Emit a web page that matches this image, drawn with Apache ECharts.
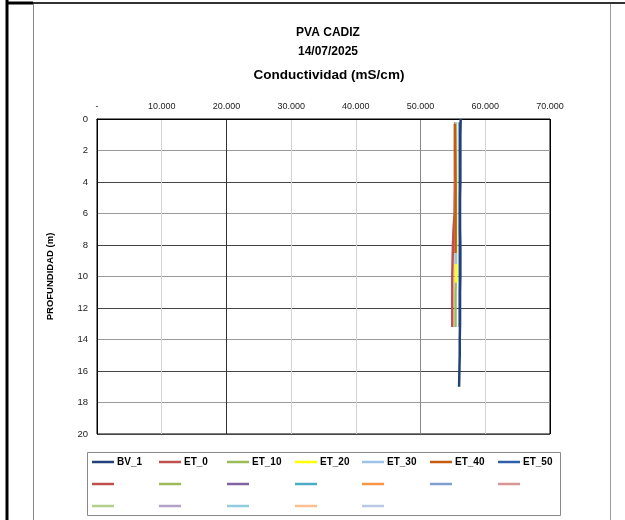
<!DOCTYPE html>
<html><head><meta charset="utf-8">
<script src="https://cdn.jsdelivr.net/npm/echarts@6/dist/echarts.min.js"></script>
<style>html,body{margin:0;padding:0;background:#fff}#c{width:625px;height:520px}</style>
</head><body><div id="c"></div>
<script>
// ---- data ----
const titleLines = ['PVA CADIZ', '14/07/2025', 'Conductividad (mS/cm)'];
const xTicks = [0, 10000, 20000, 30000, 40000, 50000, 60000, 70000];
const yTicks = [0, 2, 4, 6, 8, 10, 12, 14, 16, 18, 20];
const seriesNames = ['BV_1', 'ET_0', 'ET_10', 'ET_20', 'ET_30', 'ET_40', 'ET_50'];
const seriesColors = ['#22407A', '#C0504D', '#9BBB59', '#FFFF00', '#9DC3E6', '#C55A11', '#2E5FA8'];
const blankColors = ['#C0504D', '#9BBB59', '#8064A2', '#4BACC6', '#F79646', '#7F9FD1', '#D99694',
                     '#B3CF8C', '#B3A2C7', '#93CDDD', '#FAC090', '#B9C9E5'];
// depth (m)
const depthBV1 = [0, 1, 2, 3, 4, 5, 6, 7, 8, 9, 10, 11, 12, 13, 14, 15, 16, 17];
const valBV1 = [56200, 56150, 56150, 56150, 56150, 56100, 56100, 56100, 56150, 56150, 56150, 56100, 56100, 56100, 56050, 56050, 56000, 55950];
const depthET0 = [0.2, 2, 4, 6, 7, 8, 9, 10, 11, 12, 13.2];
const valET0 = [55350, 55300, 55300, 55250, 55100, 55000, 54950, 54900, 54900, 54900, 54900];
const depthET10 = [0.2, 2, 4, 6, 8, 9, 10, 11, 12, 13.2];
const valET10 = [55450, 55450, 55450, 55450, 55450, 55450, 55450, 55400, 55400, 55400];
const depthET20 = [0.2, 2, 4, 6, 8, 9, 10.4];
const valET20 = [55500, 55500, 55500, 55500, 55500, 55500, 55500];
const depthET30 = [0.2, 2, 4, 6, 8, 9.2];
const valET30 = [55450, 55450, 55450, 55450, 55450, 55450];
const depthET40 = [0.3, 2, 4, 6, 8, 8.5];
const valET40 = [55300, 55350, 55400, 55400, 55400, 55400];
const depthET50 = [0.2, 2, 4, 6, 8, 10, 12, 13.2];
const valET50 = [56050, 56050, 56050, 56050, 56050, 56050, 56050, 56050];

const depths = [depthBV1, depthET0, depthET10, depthET20, depthET30, depthET40, depthET50];
const vals = [valBV1, valET0, valET10, valET20, valET30, valET40, valET50];

// ---- chart ----
const chart = echarts.init(document.getElementById('c'), null, {renderer: 'canvas'});
const FONT = 'Liberation Sans, Arial, sans-serif';

const drawOrder = [1, 2, 3, 4, 5, 6, 0];
const series = [];
seriesNames.forEach((n, i) => {
  series.push({
    name: n, type: 'line', symbol: 'none', z: 2 + drawOrder.indexOf(i),
    lineStyle: {width: 2.5, color: seriesColors[i]}, itemStyle: {color: seriesColors[i]},
    data: depths[i].map((d, k) => [vals[i][k], d])
  });
});
const blankNames = blankColors.map((c, i) => 'serie_' + (i + 8));
blankNames.forEach((n, i) => {
  series.push({name: n, type: 'line', symbol: 'none', lineStyle: {width: 2.5, color: blankColors[i]},
    itemStyle: {color: blankColors[i]}, data: []});
});

const legendNames = seriesNames.concat(blankNames);
const colX = [92, 159, 227, 295, 362, 430, 498];
const rowY = [457, 479, 501];
const legends = legendNames.map((n, i) => ({
  data: [n], left: colX[i % 7], top: rowY[Math.floor(i / 7)],
  icon: 'rect', itemWidth: 22, itemHeight: 2.5, itemGap: 0, selectedMode: false, padding: 0,
  textStyle: {fontFamily: FONT, fontSize: 10, fontWeight: 'bold', color: '#000', padding: [0, 0, 0, -2]},
  formatter: (name) => name.indexOf('serie_') === 0 ? ' ' : name
}));

const fmt = v => v === 0 ? '-' : (v / 1000).toFixed(3);

const option = {
  backgroundColor: '#fff',
  animation: false,
  title: [
    {text: titleLines[0], left: 323, top: 22, textAlign: 'center', textStyle: {fontFamily: FONT, fontSize: 12, fontWeight: 'bold', color: '#000'}},
    {text: titleLines[1], left: 323, top: 41, textAlign: 'center', textStyle: {fontFamily: FONT, fontSize: 12, fontWeight: 'bold', color: '#000'}},
    {text: titleLines[2], left: 324, top: 63, textAlign: 'center', textStyle: {fontFamily: FONT, fontSize: 13.5, fontWeight: 'bold', color: '#000'}}
  ],
  legend: legends,
  grid: {left: 97, top: 119, right: 75, bottom: 86, show: true, borderColor: '#000', borderWidth: 1, backgroundColor: 'transparent'},
  xAxis: {
    type: 'value', position: 'top', min: xTicks[0], max: xTicks[xTicks.length - 1], interval: 10000,
    axisLine: {show: true, lineStyle: {color: '#000', width: 1}},
    axisTick: {show: false},
    axisLabel: {formatter: fmt, fontFamily: FONT, fontSize: 9, color: '#222', margin: 8},
    splitLine: {show: true, lineStyle: {color: ['#000', '#d4d4d4', '#333', '#d4d4d4', '#d4d4d4', '#888', '#d4d4d4', '#000'], width: 1}}
  },
  yAxis: {
    type: 'value', inverse: true, min: yTicks[0], max: yTicks[yTicks.length - 1], interval: 2,
    name: 'PROFUNDIDAD (m)', nameLocation: 'middle', nameGap: 42, nameRotate: 90,
    nameTextStyle: {fontFamily: FONT, fontSize: 9.5, fontWeight: 'bold', color: '#000'},
    axisLine: {show: true, lineStyle: {color: '#000', width: 1}},
    axisTick: {show: false},
    axisLabel: {fontFamily: FONT, fontSize: 9.5, color: '#222', margin: 9},
    splitLine: {show: true, lineStyle: {color: ['#444', '#9a9a9a'], width: 1}}
  },
  series: series,
  graphic: [
    {type: 'line', shape: {x1: 7, y1: 0, x2: 7, y2: 520}, style: {stroke: '#000', lineWidth: 3}},
    {type: 'line', shape: {x1: 7, y1: 3, x2: 625, y2: 3}, style: {stroke: '#333', lineWidth: 2}},
    {type: 'line', shape: {x1: 7, y1: 3, x2: 33, y2: 3}, style: {stroke: '#000', lineWidth: 3}},
    {type: 'line', shape: {x1: 33.5, y1: 4, x2: 33.5, y2: 520}, style: {stroke: '#888', lineWidth: 1}},
    {type: 'line', shape: {x1: 610.5, y1: 4, x2: 610.5, y2: 520}, style: {stroke: '#999', lineWidth: 1}},
    {type: 'rect', shape: {x: 87.5, y: 452.5, width: 473, height: 63}, style: {fill: 'none', stroke: '#888', lineWidth: 1}, z: -1}
  ]
};
chart.setOption(option);
</script>
</body></html>
